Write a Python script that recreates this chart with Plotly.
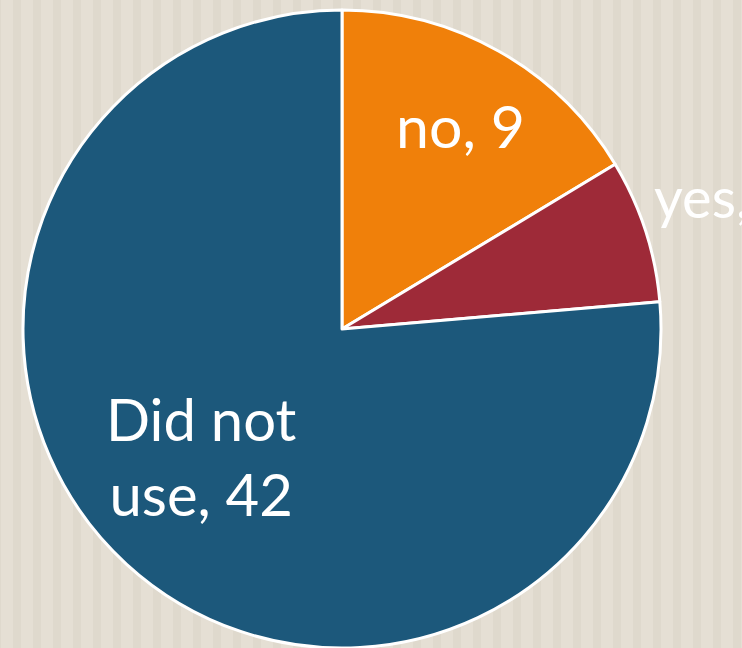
import plotly.graph_objects as go

labels = ["no", "yes", "Did not<br>use"]
values = [9, 4, 42]
colors = ["#F0800A", "#9E2A38", "#1C587B"]
font_sizes = [59, 56, 58]
# label anchor points in pixels (layout only)
label_xy = [(460, 126), (652, 196), (201, 456)]
label_xanchor = ["center", "left", "center"]

W, H = 742, 648
fig = go.Figure()
fig.add_trace(go.Pie(
    labels=labels,
    values=values,
    sort=False,
    direction="clockwise",
    rotation=0,
    marker=dict(colors=colors, line=dict(color="white", width=3)),
    textinfo="none",
    showlegend=False,
    automargin=False,
    hoverinfo="label+value",
    domain=dict(x=[22 / W, 662 / W], y=[0, 1 - 10 / H]),
))

for lab, val, (px, py), xa, fs in zip(labels, values, label_xy, label_xanchor, font_sizes):
    fig.add_annotation(
        text=f"{lab}, {val}",
        xref="paper", yref="paper",
        x=px / W, y=1 - py / H,
        xanchor=xa, yanchor="middle",
        showarrow=False,
        font=dict(family="Lato", size=fs, color="white"),
    )

shapes = []
x = 13 - 20
while x < W:
    shapes.append(dict(type="rect", xref="paper", yref="paper",
                       x0=max(x, 0) / W, x1=(x + 8) / W, y0=0, y1=1,
                       fillcolor="#DFD9CD", line=dict(width=0), layer="below"))
    x += 20

fig.update_layout(
    width=W, height=H,
    margin=dict(l=0, r=0, t=0, b=0),
    paper_bgcolor="#E5DFD4",
    plot_bgcolor="#E5DFD4",
    shapes=shapes,
)
fig.write_html("out.html")
